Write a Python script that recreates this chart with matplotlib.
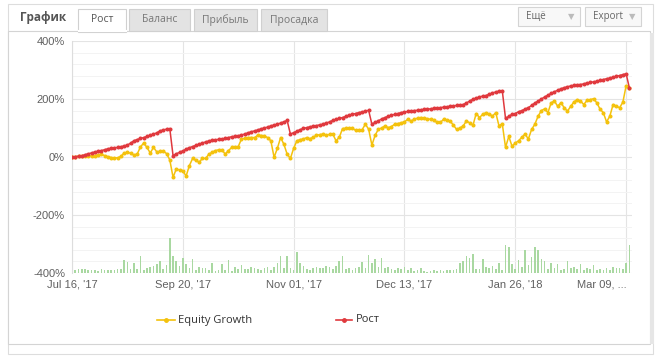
import numpy as np
import matplotlib

matplotlib.use("Agg")
import matplotlib.pyplot as plt
from matplotlib.patches import Rectangle

# ---------------------------------------------------------------- data
TICK_POS = [0, 34, 68, 102, 136, 170]
TICK_LABELS = ["Jul 16, '17", "Sep 20, '17", "Nov 01, '17", "Dec 13, '17", "Jan 26, '18", "Mar 09, ..."]

# "Рост" (red), % per point
growth = [
    0, 1, 3, 4, 8, 11, 14, 17, 20, 22, 25, 28, 30, 32, 33, 35, 38, 41, 48, 56,
    60, 64, 67, 71, 75, 79, 83, 90, 93, 96, 98,
    5, 11, 16, 21, 27, 32, 36, 40, 44, 48, 52, 55, 58, 59, 61, 62, 64, 67, 70, 71,
    73, 76, 79, 83, 87, 90, 93, 97, 100, 103, 107, 110, 113, 117, 121, 126,
    79, 84, 89, 94, 99, 101, 104, 106, 108, 111, 113, 117, 121, 126, 130, 133, 136,
    140, 144, 147, 150, 153, 155, 158, 161,
    113, 119, 125, 131, 136, 140, 144, 147, 150, 153, 155, 157, 159, 160, 161, 163,
    164, 165, 166, 168, 169, 170, 172, 173, 175, 176, 178, 179, 181, 186, 193, 199,
    203, 207, 210, 212, 216, 221, 224, 227, 229,
    133, 140, 147, 150, 156, 160, 165, 170, 178, 186, 193, 200, 207, 213, 219, 225,
    230, 235, 239, 242, 245, 247, 249, 250, 252, 255, 257, 259, 261, 264, 267, 270,
    272, 275, 278, 281, 284, 287, 238,
]

# "Equity Growth" (yellow), % per point
equity = [
    0, 1, 2, 2, 2, 3, 4, 5, 7, 9, 5, 1, -2, -3, -3, 2, 14, 16, 13, 7,
    10, 35, 48, 33, 14, 33, 18, 19, 20, 12, -10,
    -70, -41, -45, -47, -66, -30, -5, -12, -18, -5, -5, 10, 16, 22, 25, 25, 10, 22,
    33, 34, 36, 62, 64, 67, 67, 67, 75, 74, 73, 67, 56, -1, 30, 67, 44, 10,
    -5, 30, 56, 60, 62, 67, 63, 68, 75, 77, 79, 75, 78, 79, 56, 68, 98, 99, 99, 99,
    92, 93, 94, 113, 96,
    41, 75, 96, 100, 107, 101, 105, 113, 115, 118, 121, 130, 124, 130, 134, 136,
    134, 132, 130, 128, 119, 119, 130, 128, 124, 110, 95, 100, 107, 124, 118, 109,
    150, 136, 147, 153, 148, 141, 153, 107, 115,
    33, 71, 37, 48, 56, 68, 79, 62, 95, 113, 141, 160, 166, 153, 187, 193, 175, 187,
    170, 158, 175, 190, 198, 193, 181, 195, 198, 201, 187, 165, 153, 121, 141, 181,
    175, 170, 189, 246, 238,
]

# green bars at the bottom (height above the -400% floor)
volume = [
    10, 11, 14, 15, 14, 9, 11, 12, 8, 13,
    9, 11, 12, 10, 13, 14, 45, 38, 15, 36,
    14, 57, 12, 18, 20, 24, 30, 43, 15, 28,
    120, 57, 40, 25, 51, 30, 18, 48, 12, 20,
    18, 17, 12, 36, 6, 10, 30, 12, 46, 8,
    20, 14, 28, 15, 14, 20, 16, 14, 10, 18,
    22, 12, 20, 34, 59, 18, 59, 16, 12, 74,
    34, 24, 14, 10, 18, 20, 16, 18, 24, 20,
    14, 24, 40, 57, 14, 16, 10, 18, 20, 38,
    16, 63, 34, 48, 20, 51, 18, 20, 14, 12,
    16, 14, 20, 10, 16, 6, 12, 18, 6, 4,
    8, 10, 6, 10, 8, 12, 10, 12, 14, 34,
    40, 59, 51, 66, 14, 14, 50, 20, 18, 24,
    14, 34, 10, 97, 89, 32, 14, 46, 20, 80,
    28, 54, 89, 78, 48, 40, 14, 34, 18, 32,
    10, 14, 40, 16, 20, 14, 30, 12, 18, 14,
    28, 12, 14, 10, 16, 12, 20, 16, 18, 14,
    34, 97,
]

RED = "#e0393e"
YELLOW = "#f4c20d"
GREEN = "#a9d8a1"
UI_FONT = ["Open Sans", "DejaVu Sans"]

# ---------------------------------------------------------------- figure
fig = plt.figure(figsize=(6.62, 3.64), dpi=100)

# widget chrome, drawn in pixel coordinates
bg = fig.add_axes([0, 0, 1, 1], zorder=0)
bg.set_xlim(0, 662)
bg.set_ylim(364, 0)
bg.axis("off")
bg.add_patch(Rectangle((8, 4), 645, 350, fc="white", ec="#dddddd", lw=0.8))
bg.add_patch(Rectangle((8, 31), 642, 313, fc="white", ec="#d4d4d4", lw=0.8))
bg.add_patch(Rectangle((650, 33), 4, 311, fc="#e6e6e6", ec="none"))
bg.text(20, 18, "График", fontsize=8.5, fontweight="bold", color="#555555",
        va="center", family=UI_FONT)

tabs = [("Рост", 78, 48), ("Баланс", 129, 61), ("Прибыль", 194, 63), ("Просадка", 261, 66)]
for i, (name, x0, w) in enumerate(tabs):
    sel = i == 0
    bg.add_patch(Rectangle((x0, 9), w, 22.5 if sel else 21.5,
                           fc="white" if sel else "#e3e3e3", ec="#d0d0d0", lw=0.8))
    bg.text(x0 + w / 2, 20, name, fontsize=7.5, color="#555555" if sel else "#777777",
            ha="center", va="center", family=UI_FONT)
bg.plot([78.5, 125.5], [31, 31], color="white", lw=1.5)

for name, x0, w in [("Ещё", 518, 62), ("Export", 585, 56)]:
    bg.add_patch(Rectangle((x0, 7), w, 19, fc="#f8f8f8", ec="#d4d4d4", lw=0.8))
    bg.text(x0 + 8, 16.5, name, fontsize=7, color="#666666", va="center", family=UI_FONT)
    bg.text(x0 + w - 9, 16.5, "▼", fontsize=6, color="#bbbbbb", ha="center", va="center")

# legend
bg.plot([157, 175], [320, 320], color=YELLOW, lw=1.2)
bg.plot([166], [320], "o", color=YELLOW, ms=2.5)
bg.text(178, 320, "Equity Growth", fontsize=8, color="#333333", va="center", family=UI_FONT)
bg.plot([336, 352], [320, 320], color=RED, lw=1.2)
bg.plot([344], [320], "o", color=RED, ms=2.5)
bg.text(356, 320, "Рост", fontsize=8, color="#333333", va="center", family=UI_FONT)

# ---------------------------------------------------------------- chart
ax = fig.add_axes([72 / 662, 91 / 364, 560 / 662, 232 / 364], zorder=1)
ax.patch.set_alpha(0)
x = np.arange(len(growth))

ax.bar(x, volume, bottom=-400, width=0.5, color=GREEN, zorder=2)
ax.plot(x, equity, color=YELLOW, lw=1.1, marker="o", ms=1.9, zorder=3)
ax.plot(x, growth, color=RED, lw=1.1, marker="o", ms=1.9, zorder=4)

ax.set_xlim(0, 171.8)
ax.set_ylim(-400, 400)
ax.set_yticks(range(-400, 401, 200))
ax.set_yticks(range(-400, 401, 40), minor=True)
ax.set_yticklabels([f"{v}%" for v in range(-400, 401, 200)])
ax.set_xticks(TICK_POS)
ax.set_xticklabels(TICK_LABELS)
ax.grid(True, which="major", color="#e4e4e4", lw=0.8)
ax.grid(True, which="minor", axis="y", color="#f3f3f3", lw=0.7)
ax.set_axisbelow(True)
ax.tick_params(which="both", length=0, labelsize=8, colors="#606060", pad=5)
for lab in ax.get_xticklabels() + ax.get_yticklabels():
    lab.set_family(["Liberation Sans", "DejaVu Sans"])
ax.get_xticklabels()[-1].set_horizontalalignment("right")
ax.get_xticklabels()[-1].set_x(171.5)
for side in ["top", "right", "bottom"]:
    ax.spines[side].set_visible(False)
ax.spines["left"].set_color("#dddddd")

fig.savefig("out.png", dpi=100)
